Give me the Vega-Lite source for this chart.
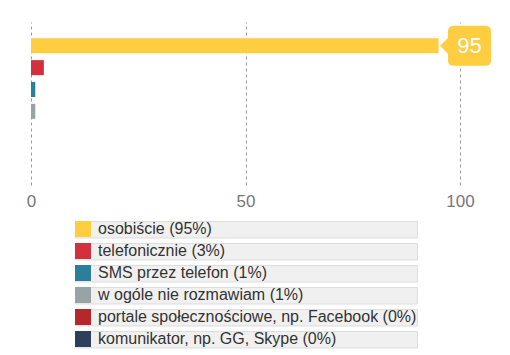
{
  "$schema": "https://vega.github.io/schema/vega-lite/v6.json",
  "width": 429,
  "height": 163,
  "autosize": "none",
  "padding": {"left": 31, "top": 22, "right": 50, "bottom": 170},
  "background": "white",
  "config": {
    "view": {"stroke": null},
    "font": "Liberation Sans",
    "legend": {"layout": {"bottom": {"anchor": "middle"}}}
  },
  "data": {
    "values": [
      {"label": "osobiście (95%)", "value": 95},
      {"label": "telefonicznie (3%)", "value": 3},
      {"label": "SMS przez telefon (1%)", "value": 1},
      {"label": "w ogóle nie rozmawiam (1%)", "value": 1},
      {"label": "portale społecznościowe, np. Facebook (0%)", "value": 0},
      {"label": "komunikator, np. GG, Skype (0%)", "value": 0}
    ]
  },
  "encoding": {
    "y": {
      "field": "label", "type": "nominal", "sort": null, "axis": null,
      "scale": {"paddingInner": 0.31, "paddingOuter": 0.89, "align": 0.42}
    },
    "x": {
      "field": "value", "type": "quantitative",
      "scale": {"domain": [0, 100], "nice": false},
      "axis": {
        "values": [0, 50, 100], "title": null, "domain": false, "ticks": false,
        "labelFlush": false,
        "labelPadding": 8, "labelFontSize": 17, "labelColor": "#777777",
        "labelFont": "Liberation Sans",
        "grid": true, "gridDash": [3, 3], "gridColor": "#9a9a9a", "gridWidth": 1
      }
    }
  },
  "layer": [
    {
      "mark": {"type": "bar"},
      "encoding": {
        "color": {
          "field": "label", "type": "nominal", "sort": null,
          "scale": {
            "domain": ["osobiście (95%)", "telefonicznie (3%)", "SMS przez telefon (1%)", "w ogóle nie rozmawiam (1%)", "portale społecznościowe, np. Facebook (0%)", "komunikator, np. GG, Skype (0%)"],
            "range": ["#fecd40", "#d42f3d", "#2b7f9a", "#98a3a6", "#b5272b", "#2e3f5c"]
          },
          "legend": {
            "title": null, "orient": "bottom", "direction": "vertical", "columns": 1,
            "symbolType": "square", "symbolSize": 256, "symbolStrokeWidth": 0,
            "symbolOpacity": 1, "labelFontSize": 16, "labelColor": "#333333",
            "labelFont": "Liberation Sans", "labelOffset": 7, "rowPadding": 4, "offset": 12,
            "labelLimit": 400,
            "encode": {
              "entries": {
                "update": {
                  "fill": {"value": "#f0f0f0"},
                  "stroke": {"value": "#dddddd"},
                  "strokeWidth": {"value": 1}
                }
              }
            }
          }
        }
      }
    },
    {
      "transform": [{"filter": "datum.value > 50"}],
      "mark": {
        "type": "point", "filled": true, "opacity": 1, "xOffset": 31,
        "shape": "M-0.71,-0.91 L0.71,-0.91 Q0.98,-0.91 0.98,-0.64 L0.98,0.64 Q0.98,0.91 0.71,0.91 L-0.71,0.91 Q-0.98,0.91 -0.98,0.64 L-0.98,0.36 L-1.34,0 L-0.98,-0.36 L-0.98,-0.64 Q-0.98,-0.91 -0.71,-0.91 Z",
        "size": 1936, "color": "#fecd40"
      }
    },
    {
      "transform": [{"filter": "datum.value > 50"}],
      "mark": {
        "type": "text", "xOffset": 31, "color": "white", "fontSize": 22,
        "font": "Liberation Sans", "align": "center", "baseline": "middle"
      },
      "encoding": {"text": {"field": "value"}}
    }
  ]
}
